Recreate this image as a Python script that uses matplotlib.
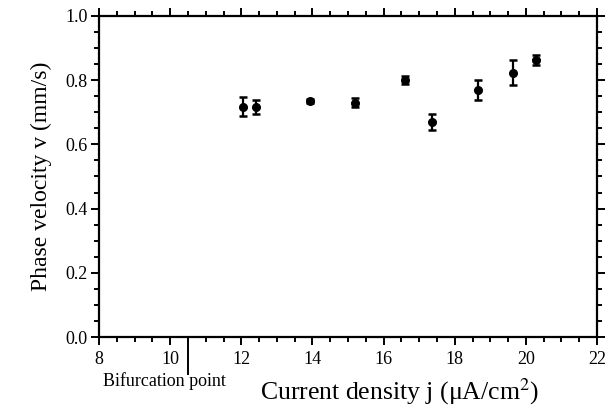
import matplotlib
matplotlib.use("Agg")
import matplotlib.pyplot as plt
import matplotlib.transforms as mtransforms
from matplotlib.ticker import MultipleLocator

current = [12.05, 12.42, 13.92, 15.19, 16.61, 17.37, 18.66, 19.65, 20.29]
velocity = [0.717, 0.717, 0.735, 0.730, 0.801, 0.671, 0.769, 0.823, 0.863]
err = [0.030, 0.021, 0.005, 0.014, 0.012, 0.025, 0.032, 0.039, 0.015]
bifurcation = 10.5

plt.rcParams['font.family'] = ['Liberation Serif', 'DejaVu Serif']
plt.rcParams['mathtext.fontset'] = 'stix'

fig = plt.figure(figsize=(6.13, 4.09), dpi=100)
ax = fig.add_axes([0.1615, 0.176, 0.8125, 0.785])

ax.errorbar(current, velocity, yerr=err, fmt='o', color='black', ms=5.5,
            elinewidth=1.6, capsize=3.0, capthick=1.8)

ax.set_xlim(8, 22)
ax.set_ylim(0, 1.0)
ax.xaxis.set_major_locator(MultipleLocator(2))
ax.xaxis.set_minor_locator(MultipleLocator(0.5))
ax.yaxis.set_major_locator(MultipleLocator(0.2))
ax.yaxis.set_minor_locator(MultipleLocator(0.05))
ax.set_yticks([0, 0.2, 0.4, 0.6, 0.8, 1.0])
ax.set_yticklabels(["0.0", "0.2", "0.4", "0.6", "0.8", "1.0"])

for s in ax.spines.values():
    s.set_linewidth(1.6)

ax.tick_params(axis='both', which='both', direction='out', top=True, right=True,
               labelsize=13, width=1.4)
ax.tick_params(which='major', length=6)
ax.tick_params(which='minor', length=3.5)
ax.tick_params(axis='x', pad=4)
ax.tick_params(axis='y', pad=2)

ax.set_ylabel('Phase velocity v (mm/s)', fontsize=17, labelpad=10)

trans = mtransforms.blended_transform_factory(ax.transData, ax.transAxes)
ax.text(12.52, -0.196, r'Current density j (μA/cm$^{2}$)', transform=trans,
        fontsize=18.5, ha='left', va='baseline')

# bifurcation marker
ax.plot([bifurcation, bifurcation], [-0.01, -0.115], color='black', lw=1.4,
        clip_on=False)
ax.text(bifurcation - 0.65, -0.137, 'Bifurcation point', fontsize=13,
        ha='center', va='center', transform=ax.transData)

fig.savefig('out.png', dpi=100)
